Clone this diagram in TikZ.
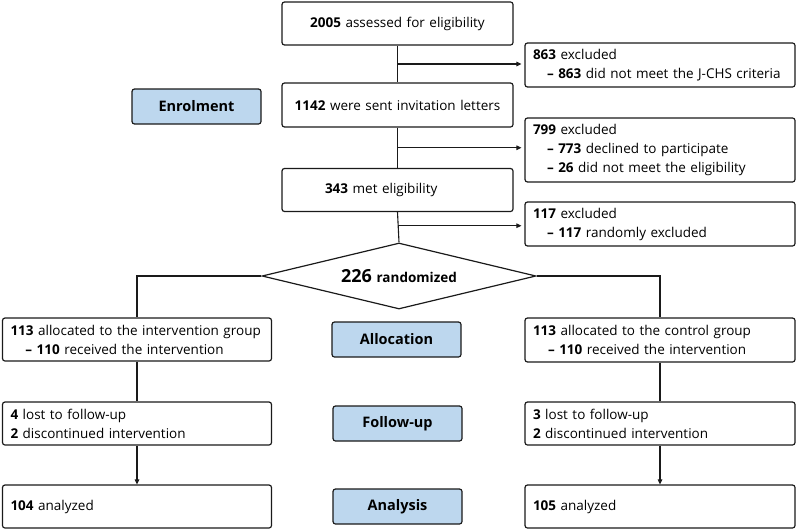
\documentclass[tikz,border=0pt]{standalone}
\usepackage{fontspec}
\setmainfont{Open Sans}
\usetikzlibrary{shapes.geometric,arrows.meta,calc}
\definecolor{stage}{HTML}{BDD7EE}
\definecolor{edge}{HTML}{1A1A1A}
\begin{document}
\begin{tikzpicture}[x=1pt,y=-1pt,
  font=\fontsize{13.5}{19}\selectfont,
  box/.style={draw=edge, line width=1.2pt, rounded corners=2.5pt, inner xsep=8pt, inner ysep=0pt, align=left, fill=white},
  stagebox/.style={draw=edge, line width=1.2pt, rounded corners=2.5pt, fill=stage, minimum width=129pt, minimum height=35pt, inner sep=0pt, font=\fontsize{14.5}{16}\selectfont\bfseries},
  conn/.style={draw=edge, line width=1.1pt},
  arr/.style={conn, -{Triangle[length=5pt,width=4.5pt]}}]
\useasboundingbox (0,0) rectangle (797,530);

% main column
\node[box, align=center, text width=215pt, minimum height=43pt] (b1) at (397.5,23.5) {\textbf{2005} assessed for eligibility};
\node[box, align=center, text width=215pt, minimum height=44pt] (b2) at (397.5,105) {\textbf{1142} were sent invitation letters};
\node[box, text width=215pt, minimum height=43pt] (b3) at (397.5,190) {\hspace*{35pt}\textbf{343} met eligibility};

% exclusions
\node[box, text width=254pt, minimum height=44pt] (e1) at (660,65) {\textbf{863} excluded\\\hspace*{14pt}\textbf{--} \textbf{863} did not meet the J-CHS criteria};
\node[box, text width=254pt, minimum height=64pt] (e2) at (660,150) {\textbf{799} excluded\\\hspace*{14pt}\textbf{--} \textbf{773} declined to participate\\\hspace*{14pt}\textbf{--} \textbf{26} did not meet the eligibility};
\node[box, text width=254pt, minimum height=44pt] (e3) at (660,224) {\textbf{117} excluded\\\hspace*{14pt}\textbf{--} \textbf{117} randomly excluded};

% randomization
\node[draw=edge, line width=1.2pt, fill=white, shape=diamond, aspect=4.15, minimum width=274pt, minimum height=66pt, inner sep=0pt] (rd) at (399,276)
  {\fontsize{18}{20}\selectfont\textbf{226} \fontsize{13.5}{16}\selectfont\textbf{randomized}};

% allocation
\node[box, inner xsep=6pt, text width=257pt, minimum height=43pt] (a1) at (137,339.5) {\hspace*{2pt}\textbf{113} allocated to the intervention group\\\hspace*{17pt}\textbf{--} \textbf{110} received the intervention};
\node[box, text width=254pt, minimum height=44pt] (a2) at (660,340) {\textbf{113} allocated to the control group\\\hspace*{15pt}\textbf{--} \textbf{110} received the intervention};

% follow-up
\node[box, text width=253pt, minimum height=43pt] (f1) at (137,423.5) {\textbf{4} lost to follow-up\\\textbf{2} discontinued intervention};
\node[box, text width=254pt, minimum height=43pt] (f2) at (660,423.5) {\textbf{3} lost to follow-up\\\textbf{2} discontinued intervention};

% analysis
\node[box, text width=253pt, minimum height=43pt] (n1) at (137,506.5) {\textbf{104} analyzed};
\node[box, text width=254pt, minimum height=43pt] (n2) at (660,506.5) {\textbf{105} analyzed};

% stage labels
\node[stagebox] (s1) at (196.5,106.5) {Enrolment};
\node[stagebox] (s2) at (396.5,339.5) {Allocation};
\node[stagebox] (s3) at (397.5,423.5) {Follow-up};
\node[stagebox] (s4) at (397.5,506.5) {Analysis};

% connectors
\coordinate (j1) at ($(b1.south)!0.5!(b2.north)$);
\coordinate (j2) at ($(b2.south)!0.5!(b3.north)$);
\coordinate (j3) at ($(b3.south)!0.45!(rd.north)$);
\draw[conn] (b1.south) -- (b2.north);
\draw[conn] (b2.south) -- (b3.north);
\draw[conn] (b3.south) -- (rd.north);
\draw[arr, shorten >=3pt] (j1) -- (j1 -| e1.west);
\draw[arr, shorten >=3pt] (j2) -- (j2 -| e2.west);
\draw[arr, shorten >=3pt] (j3) -- (j3 -| e3.west);
\draw[conn] (rd.west) -| (a1.north);
\draw[conn] (rd.east) -| (a2.north);
\draw[conn] (a1.south) -- (f1.north);
\draw[conn] (a2.south) -- (f2.north);
\draw[arr] (f1.south) -- (n1.north);
\draw[arr] (f2.south) -- (n2.north);
\end{tikzpicture}
\end{document}
